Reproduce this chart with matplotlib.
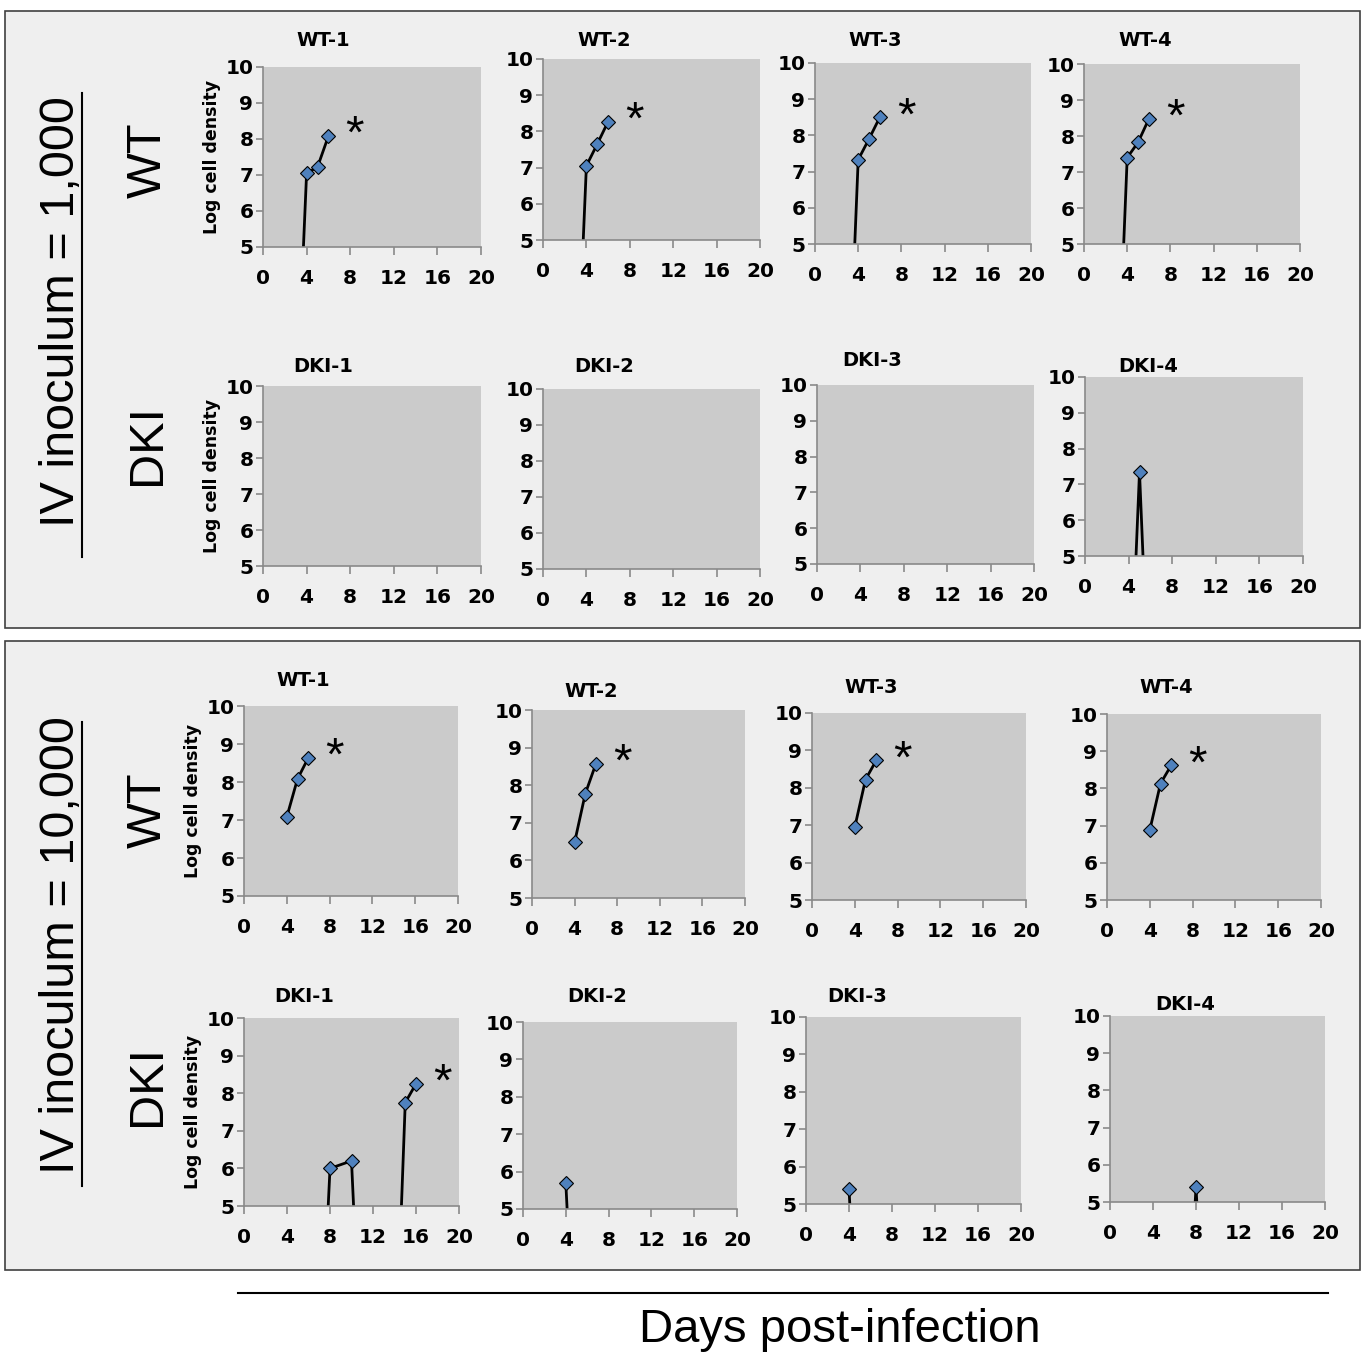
import matplotlib
matplotlib.use('Agg')
import matplotlib.pyplot as plt
from matplotlib.patches import Rectangle
from matplotlib.lines import Line2D

# --- 設定 ---
OUTPUT_FILENAME = 'out.png'
W, H = 1362, 1363

# --- データ (log cell density, 0 = below detection limit) ---
titles_wt = ['WT-1', 'WT-2', 'WT-3', 'WT-4']
titles_dki = ['DKI-1', 'DKI-2', 'DKI-3', 'DKI-4']
x_ticks = [0, 4, 8, 12, 16, 20]
y_ticks = [5, 6, 7, 8, 9, 10]

# IV inoculum = 1,000
days_wt_1000 = [[3, 4, 5, 6], [3, 4, 5, 6], [3, 4, 5, 6], [3, 4, 5, 6]]
vals_wt_1000 = [[0, 7.05, 7.22, 8.08],
                [0, 7.05, 7.65, 8.27],
                [0, 7.33, 7.90, 8.50],
                [0, 7.40, 7.82, 8.47]]
sig_wt_1000 = [True, True, True, True]

days_dki_1000 = [[], [], [], [4, 5, 6]]
vals_dki_1000 = [[], [], [], [0, 7.35, 0]]
sig_dki_1000 = [False, False, False, False]

# IV inoculum = 10,000
days_wt_10000 = [[4, 5, 6], [4, 5, 6], [4, 5, 6], [4, 5, 6]]
vals_wt_10000 = [[7.08, 8.08, 8.63],
                 [6.48, 7.77, 8.57],
                 [6.95, 8.22, 8.73],
                 [6.88, 8.13, 8.62]]
sig_wt_10000 = [True, True, True, True]

days_dki_10000 = [[7, 8, 10, 11, 14, 15, 16], [4, 5], [4, 5], [7, 8, 9]]
vals_dki_10000 = [[0, 6.0, 6.2, 0, 0, 7.75, 8.25], [5.7, 0], [5.4, 0], [0, 5.4, 0]]
sig_dki_10000 = [True, False, False, False]

# panel boxes in pixels: x0, x1, ytop, ybottom, title x, title y
layout_wt_1000 = [(263, 481, 67, 247, 323, 40), (543, 760, 59, 240, 604, 40),
                  (815, 1031, 63, 244, 875, 40), (1084, 1300, 64, 244, 1145, 40)]
layout_dki_1000 = [(263, 481, 386, 566, 323, 367), (543, 760, 389, 569, 604, 367),
                   (817, 1034, 385, 564, 872, 360), (1085, 1303, 377, 556, 1148, 366)]
layout_wt_10000 = [(244, 458, 706, 896, 303, 681), (532, 745, 710, 898, 591, 691),
                   (812, 1026, 713, 900, 871, 688), (1107, 1321, 714, 900, 1166, 688)]
layout_dki_10000 = [(244, 459, 1018, 1206, 304, 997), (523, 737, 1022, 1209, 597, 996),
                    (806, 1021, 1017, 1204, 857, 996), (1110, 1325, 1016, 1202, 1185, 1004)]

BIG_FONT = ['Liberation Sans', 'DejaVu Sans']

fig = plt.figure(figsize=(W / 100, H / 100), dpi=100, facecolor='white')


def px(x, y):
    return x / W, 1 - y / H


def panel(rect, title, days, vals, star, ylabel):
    x0, x1, yt, yb, tx, ty = rect
    ax = fig.add_axes([x0 / W, 1 - yb / H, (x1 - x0) / W, (yb - yt) / H])
    ax.set_facecolor('#cbcbcb')
    ax.set_xlim(0, 20)
    ax.set_ylim(5, 10)
    ax.set_xticks(x_ticks)
    ax.set_yticks(y_ticks)
    for s in ['top', 'right']:
        ax.spines[s].set_visible(False)
    for s in ['left', 'bottom']:
        ax.spines[s].set_color('#8a8a8a')
        ax.spines[s].set_linewidth(1.2)
    ax.tick_params(axis='x', direction='out', length=6, width=1.2, color='#8a8a8a',
                   pad=10, labelsize=14.5)
    ax.tick_params(axis='y', direction='out', length=5, width=1.2, color='#8a8a8a',
                   pad=2, labelsize=14.5)
    for lab in ax.get_xticklabels() + ax.get_yticklabels():
        lab.set_fontweight('bold')
    if len(days) > 0:
        ax.plot(days, vals, '-', color='black', lw=2, marker='D', ms=7.5,
                mfc='#4f81bd', mec='black', mew=0.8)
    if star:
        ax.annotate('*', (days[-1], vals[-1]), xytext=(19, 0), textcoords='offset points',
                    fontsize=34, ha='center', va='center', family=BIG_FONT)
    if ylabel:
        ax.set_ylabel('Log cell density', fontsize=12.5, fontweight='bold', labelpad=3)
    fig.text(*px(tx, ty), title, ha='center', va='center', fontsize=14, fontweight='bold')
    return ax


# outer boxes
for (bx0, by0, bx1, by1) in [(5, 11, 1360, 628), (5, 641, 1360, 1270)]:
    fig.add_artist(Rectangle(px(bx0, by1), (bx1 - bx0) / W, (by1 - by0) / H,
                             transform=fig.transFigure, facecolor='#efefef',
                             edgecolor='#404040', lw=1.2, zorder=0))

groups = [
    (layout_wt_1000, titles_wt, days_wt_1000, vals_wt_1000, sig_wt_1000),
    (layout_dki_1000, titles_dki, days_dki_1000, vals_dki_1000, sig_dki_1000),
    (layout_wt_10000, titles_wt, days_wt_10000, vals_wt_10000, sig_wt_10000),
    (layout_dki_10000, titles_dki, days_dki_10000, vals_dki_10000, sig_dki_10000),
]
for lay, tit, dd, vv, sg in groups:
    for i in range(4):
        panel(lay[i], tit[i], dd[i], vv[i], sg[i], i == 0)

# big labels
fig.text(*px(62, 312), 'IV inoculum = 1,000', rotation=90, ha='center', va='center',
         fontsize=35, family=BIG_FONT)
fig.text(*px(62, 945), 'IV inoculum = 10,000', rotation=90, ha='center', va='center',
         fontsize=35, family=BIG_FONT)
fig.add_artist(Line2D([82 / W, 82 / W], [1 - 93 / H, 1 - 557 / H], color='black', lw=1.5))
fig.add_artist(Line2D([82 / W, 82 / W], [1 - 722 / H, 1 - 1186 / H], color='black', lw=1.5))
for (lx, ly, txt) in [(148, 160, 'WT'), (148, 445, 'DKI'), (148, 810, 'WT'), (148, 1085, 'DKI')]:
    fig.text(*px(lx, ly), txt, rotation=90, ha='center', va='center', fontsize=35,
             family=BIG_FONT)

fig.add_artist(Line2D([238 / W, 1328 / W], [1 - 1293 / H, 1 - 1293 / H], color='black', lw=1.5))
fig.text(*px(840, 1330), 'Days post-infection', ha='center', va='center', fontsize=34,
         family=BIG_FONT)

fig.savefig(OUTPUT_FILENAME, dpi=100, facecolor='white')
print(f"saved '{OUTPUT_FILENAME}'")
